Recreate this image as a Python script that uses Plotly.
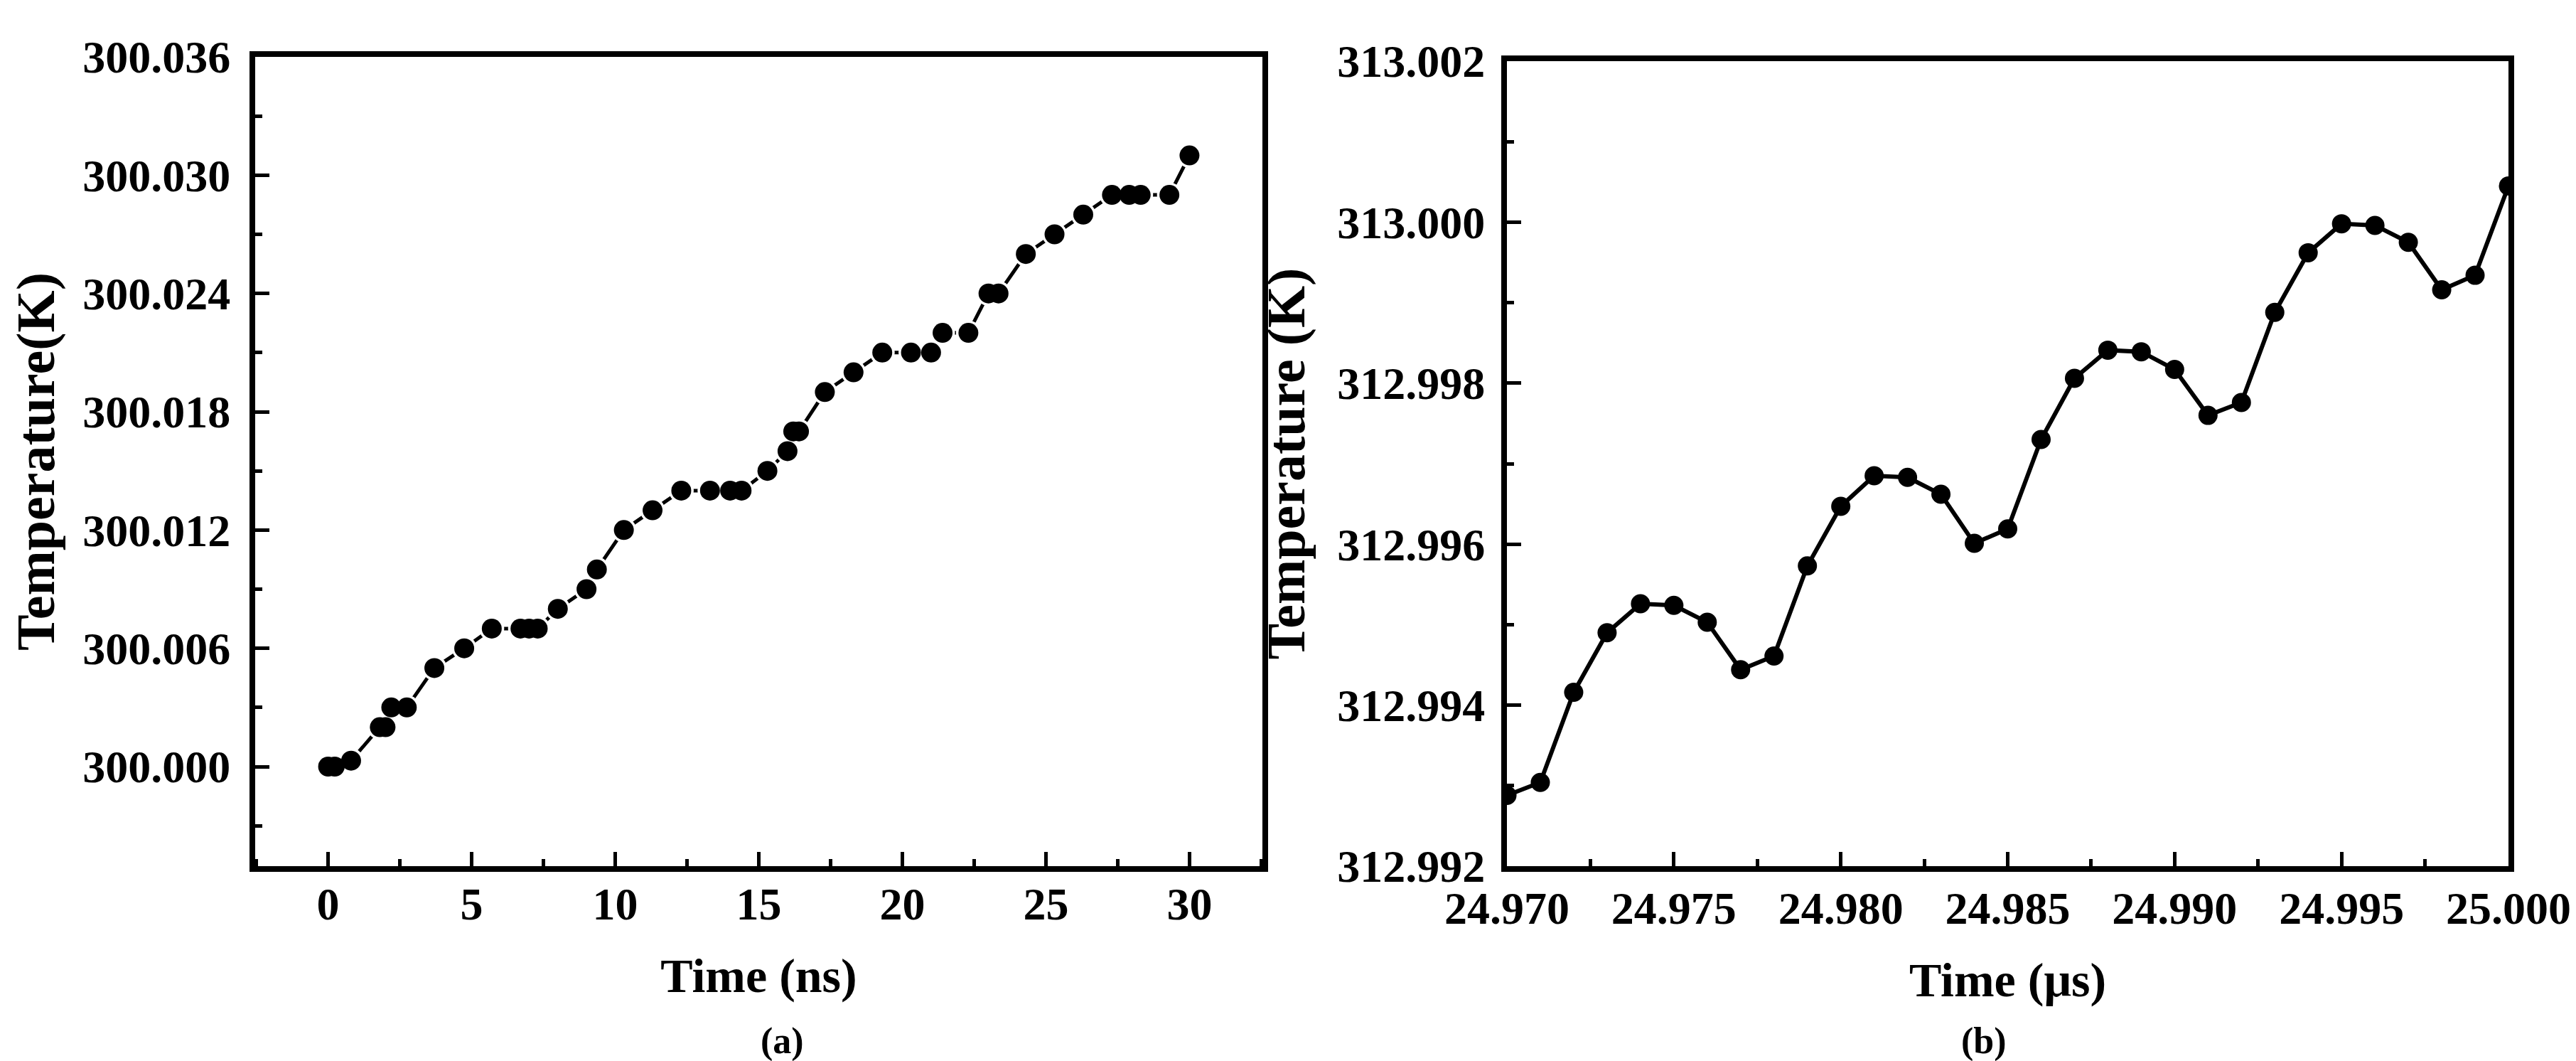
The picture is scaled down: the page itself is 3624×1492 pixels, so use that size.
import plotly.graph_objects as go

# panel (a): temperature over 30 ns
time_ns = [0, 0.23, 0.8, 1.8, 2.0, 2.2, 2.74, 3.7, 4.74, 5.7, 6.7, 7.0, 7.3,
           8.0, 9.0, 9.36, 10.3, 11.3, 12.3, 13.3, 14.0, 14.4, 15.3, 16.0,
           16.2, 16.4, 17.3, 18.3, 19.3, 20.3, 21.0, 21.4, 22.3, 23.0, 23.35,
           24.3, 25.3, 26.3, 27.3, 27.9, 28.3, 29.3, 30.0]
temp_a = [300.000, 300.000, 300.0003, 300.002, 300.002, 300.003, 300.003,
          300.005, 300.006, 300.007, 300.007, 300.007, 300.007, 300.008,
          300.009, 300.010, 300.012, 300.013, 300.014, 300.014, 300.014,
          300.014, 300.015, 300.016, 300.017, 300.017, 300.019, 300.020,
          300.021, 300.021, 300.021, 300.022, 300.022, 300.024, 300.024,
          300.026, 300.027, 300.028, 300.029, 300.029, 300.029, 300.029,
          300.031]

# panel (b): temperature near the end of the 25 us run
time_us = [24.970, 24.971, 24.972, 24.973, 24.974, 24.975, 24.976, 24.977,
           24.978, 24.979, 24.980, 24.981, 24.982, 24.983, 24.984, 24.985,
           24.986, 24.987, 24.988, 24.989, 24.990, 24.991, 24.992, 24.993,
           24.994, 24.995, 24.996, 24.997, 24.998, 24.999, 25.000]
temp_b = [312.99288, 312.99304, 312.99416, 312.99490, 312.99526, 312.99524,
          312.99503, 312.99444, 312.99461, 312.99573, 312.99647, 312.99685,
          312.99683, 312.99662, 312.99601, 312.99619, 312.99730, 312.99806,
          312.99841, 312.99839, 312.99817, 312.99760, 312.99776, 312.99888,
          312.99962, 312.99998, 312.99996, 312.99975, 312.99916, 312.99934,
          313.00045]

FONT = "Liberation Serif"
W, H = 3624, 1492

fig = go.Figure()

# (a) line with a small gap around each symbol, then the symbols on top
fig.add_trace(go.Scatter(x=time_ns, y=temp_a, mode="lines+markers",
                         line=dict(color="black", width=5),
                         marker=dict(color="white", size=35),
                         xaxis="x", yaxis="y", hoverinfo="skip"))
fig.add_trace(go.Scatter(x=time_ns, y=temp_a, mode="markers",
                         marker=dict(color="black", size=28),
                         xaxis="x", yaxis="y"))

# (b)
fig.add_trace(go.Scatter(x=time_us, y=temp_b, mode="lines+markers",
                         line=dict(color="black", width=6),
                         marker=dict(color="black", size=27),
                         xaxis="x2", yaxis="y2"))

tick_font = dict(family=FONT, size=64, color="black", weight="bold")
title_x_font = dict(family=FONT, size=68, color="black", weight="bold")
title_y_font = dict(family=FONT, size=76, color="black", weight="bold")

axis_common = dict(showline=True, linecolor="black", linewidth=8,
                   mirror=True, ticks="inside", ticklen=20, tickwidth=5,
                   tickcolor="black", showgrid=False, zeroline=False,
                   automargin=False, tickfont=tick_font)

fig.update_layout(
    width=W, height=H,
    margin=dict(l=0, r=0, t=0, b=0),
    paper_bgcolor="white", plot_bgcolor="white",
    showlegend=False,
    xaxis=dict(domain=[351 / W, 1768 / W], range=[-2.54, 32.54],
               tick0=0, dtick=5, anchor="y",
               title=dict(text="Time (ns)", font=title_x_font, standoff=45),
               minor=dict(dtick=2.5, tick0=0, ticks="inside", ticklen=10,
                          tickwidth=5, tickcolor="black"),
               ticklabelstandoff=-10,
               **axis_common),
    yaxis=dict(domain=[1 - 1210 / H, 1 - 72 / H], range=[299.99495, 300.036],
               tick0=300, dtick=0.006, tickformat=".3f", anchor="x",
               title=dict(text="Temperature(K)", font=title_y_font, standoff=18),
               minor=dict(dtick=0.003, tick0=300, ticks="inside", ticklen=10,
                          tickwidth=5, tickcolor="black"),
               ticklabelstandoff=14,
               **axis_common),
    xaxis2=dict(domain=[2112 / W, 3521 / W], range=[24.970, 25.000],
                tick0=24.970, dtick=0.005, tickformat=".3f", anchor="y2",
                title=dict(text="Time (μs)", font=title_x_font, standoff=45),
                minor=dict(dtick=0.0025, tick0=24.970, ticks="inside",
                           ticklen=10, tickwidth=5, tickcolor="black"),
                ticklabelstandoff=-4,
                **axis_common),
    yaxis2=dict(domain=[1 - 1210 / H, 1 - 78 / H], range=[312.992, 313.002],
                tick0=312.992, dtick=0.002, tickformat=".3f", anchor="x2",
                title=dict(text="Temperature (K)", font=title_y_font, standoff=24),
                minor=dict(dtick=0.001, tick0=312.992, ticks="inside",
                           ticklen=10, tickwidth=5, tickcolor="black"),
                ticklabelstandoff=10,
                **axis_common),
    annotations=[
        dict(text="(a)", x=(351 + 1768) / 2 / W, y=1 - 1456 / H,
             xref="paper", yref="paper", showarrow=False, yanchor="middle",
             font=dict(family=FONT, size=52, color="black", weight="bold")),
        dict(text="(b)", x=(2112 + 3521) / 2 / W, y=1 - 1456 / H,
             xref="paper", yref="paper", showarrow=False, yanchor="middle",
             font=dict(family=FONT, size=52, color="black", weight="bold")),
    ],
)

fig.write_html("out.html")
